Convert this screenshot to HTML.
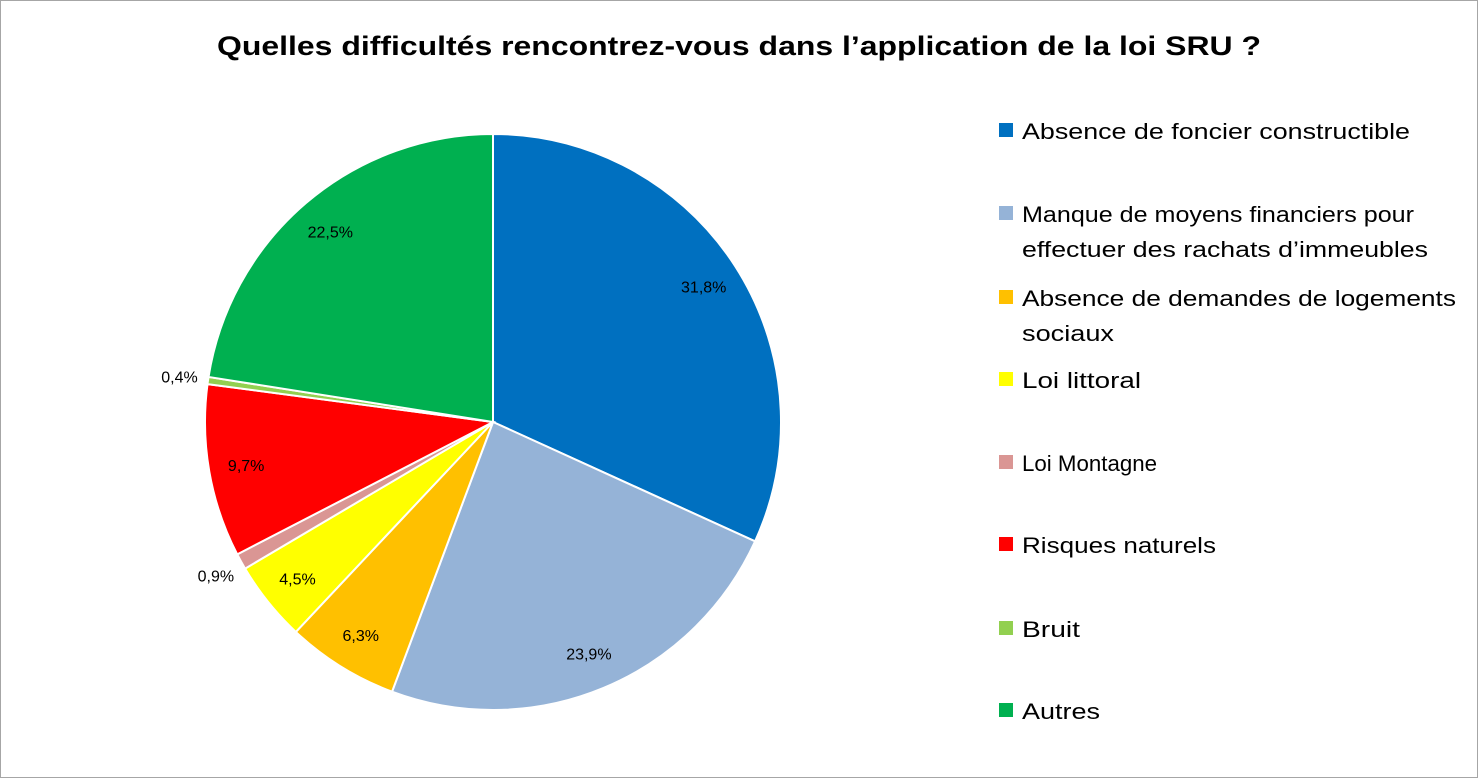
<!DOCTYPE html>
<html><head><meta charset="utf-8"><style>
html,body{margin:0;padding:0;background:#fff}
svg{display:block;font-family:"Liberation Sans",sans-serif}
</style></head><body>
<svg id="chart" width="1478" height="778" viewBox="0 0 1478 778">
<rect x="0.5" y="0.5" width="1477" height="777" fill="#fff" stroke="#a6a6a6"/>
<text x="739" y="55" text-anchor="middle" font-size="27" font-weight="bold" textLength="1044" lengthAdjust="spacingAndGlyphs">Quelles difficultés rencontrez-vous dans l’application de la loi SRU ?</text>
<g id="slices"></g><g id="labels"></g><g id="legend"></g>
</svg>
<script>
const categories=["Absence de foncier constructible","Manque de moyens financiers pour|effectuer des rachats d’immeubles","Absence de demandes de logements|sociaux","Loi littoral","Loi Montagne","Risques naturels","Bruit","Autres"];
const values=[31.8,23.9,6.3,4.5,0.9,9.7,0.4,22.5];
const valueLabels=["31,8%","23,9%","6,3%","4,5%","0,9%","9,7%","0,4%","22,5%"];
const colors=["#0070C0","#95B3D7","#FFC000","#FFFF00","#DA9694","#FF0000","#92D050","#00B050"];
const NS="http://www.w3.org/2000/svg";
const cx=493,cy=422,r=288;
const total=values.reduce((a,b)=>a+b,0);
function pt(frac,rad){const a=frac*2*Math.PI;return [cx+rad*Math.sin(a),cy-rad*Math.cos(a)];}
const sg=document.getElementById('slices'),lg=document.getElementById('labels'),leg=document.getElementById('legend');
let cum=0;
values.forEach((v,i)=>{
 const f0=cum/total,f1=(cum+v)/total;cum+=v;
 const [x0,y0]=pt(f0,r),[x1,y1]=pt(f1,r);
 const p=document.createElementNS(NS,'path');
 p.setAttribute('d',`M${cx},${cy}L${x0},${y0}A${r},${r} 0 ${f1-f0>0.5?1:0} 1 ${x1},${y1}Z`);
 p.setAttribute('fill',colors[i]);p.setAttribute('stroke','#fff');p.setAttribute('stroke-width','2');
 
 
 sg.appendChild(p);
 const small=v<1;
 const [lx,ly]=pt((f0+f1)/2,small?r*1.1:r*0.87);
 const t=document.createElementNS(NS,'text');
 t.setAttribute('x',lx);t.setAttribute('y',ly+6);t.setAttribute('text-anchor','middle');t.setAttribute('font-size','16');
 t.textContent=valueLabels[i];
 
 
 lg.appendChild(t);
});
const legY=[131,214,298,380,463,545,629,711];
categories.forEach((c,i)=>{
 const g=document.createElementNS(NS,'g');
 
 
 const s=document.createElementNS(NS,'rect');
 s.setAttribute('x',999);s.setAttribute('y',legY[i]-8);s.setAttribute('width',14);s.setAttribute('height',14);s.setAttribute('fill',colors[i]);
 g.appendChild(s);
 c.split('|').forEach((line,j)=>{
  const t=document.createElementNS(NS,'text');
  t.setAttribute('x',1022);t.setAttribute('y',legY[i]+8+j*35);t.setAttribute('font-size','22');
  t.textContent=line;
  const wl={"Manque de moyens financiers pour":392,"effectuer des rachats d’immeubles":406,"Absence de demandes de logements":434,"sociaux":92,"Loi littoral":119,"Loi Montagne":135,"Risques naturels":194,"Bruit":58,"Autres":78,"Absence de foncier constructible":388}[line];
  if(wl){t.setAttribute('textLength',wl);t.setAttribute('lengthAdjust','spacingAndGlyphs');}
  g.appendChild(t);
 });
 leg.appendChild(g);
});
</script>
</body></html>
